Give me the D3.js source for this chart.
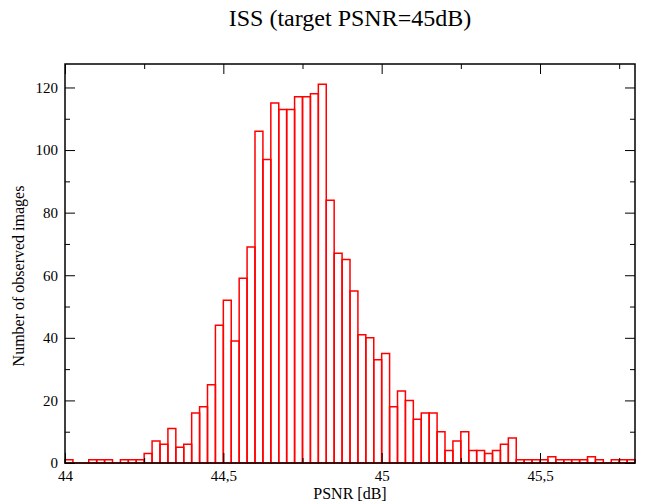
<!DOCTYPE html>
<html>
<head>
<meta charset="utf-8">
<script src="https://cdn.jsdelivr.net/npm/d3@7"></script>
<style>
  html, body { margin: 0; padding: 0; background: #fff; }
  svg { display: block; }
</style>
</head>
<body>
<svg id="chart" width="664" height="503"></svg>
<script>
// ---- data ----
const binStart = 44.0;
const binWidth = 0.025;
const counts = [1,0,0,1,1,1,0,1,1,1, 3,7,6,11,5,6,16,18,25,44,
                52,39,59,69,106,97,115,113,113,117, 117,118,121,84,67,65,55,41,40,33,
                35,18,23,20,14,16,16,10,4,7, 10,4,4,3,4,6,8,1,1,1,
                1,2,1,1,1,1,2,1,0,1, 1,1];
const xMajorTicks = [44, 44.5, 45, 45.5];
const xTickLabels = ["44", "44,5", "45", "45,5"];
const xMinorTicks = [44.25, 44.75, 45.25, 45.75];
const yMajorTicks = [0, 20, 40, 60, 80, 100, 120];
const yMinorTicks = [10, 30, 50, 70, 90, 110];
const title = "ISS (target PSNR=45dB)";
const xTitle = "PSNR [dB]";
const yTitle = "Number of observed images";

// ---- layout ----
const L = 65, R = 635, T = 64, B = 463;
const svg = d3.select("#chart");
const font = "'Liberation Serif', 'Times New Roman', serif";

const x = d3.scaleLinear().domain([44, 45.8]).range([L, R]);
const y = d3.scaleLinear().domain([0, 127.5]).range([B, T]);

// bars
const bins = counts.map((c, i) => ({x0: binStart + i * binWidth, x1: binStart + (i + 1) * binWidth, c}));
svg.append("g").selectAll("path").data(bins).join("path")
  .attr("d", d => `M${x(d.x0)},${y(0)}V${y(d.c)}H${x(d.x1)}V${y(0)}Z`)
  .attr("fill", "none")
  .attr("stroke", "#ff0000")
  .attr("stroke-width", 1.5);

function styleAxis(g) {
  g.select(".domain").remove();
  g.selectAll(".tick line").attr("stroke", "#000").attr("stroke-width", 1);
  g.selectAll(".tick text").attr("font-family", font).attr("font-size", 15).attr("fill", "#000");
}

// left
svg.append("g").attr("transform", `translate(${L},0)`)
  .call(d3.axisLeft(y).tickValues(yMajorTicks).tickSizeInner(-10).tickSizeOuter(0).tickPadding(7).tickFormat(d3.format("d")))
  .call(styleAxis);
svg.append("g").attr("transform", `translate(${L},0)`)
  .call(d3.axisLeft(y).tickValues(yMinorTicks).tickSizeInner(-5).tickSizeOuter(0).tickFormat(""))
  .call(styleAxis);
// right
svg.append("g").attr("transform", `translate(${R},0)`)
  .call(d3.axisRight(y).tickValues(yMajorTicks).tickSizeInner(-10).tickSizeOuter(0).tickFormat(""))
  .call(styleAxis);
svg.append("g").attr("transform", `translate(${R},0)`)
  .call(d3.axisRight(y).tickValues(yMinorTicks).tickSizeInner(-5).tickSizeOuter(0).tickFormat(""))
  .call(styleAxis);
// bottom
svg.append("g").attr("transform", `translate(0,${B})`)
  .call(d3.axisBottom(x).tickValues(xMajorTicks).tickSizeInner(-10).tickSizeOuter(0).tickPadding(7)
    .tickFormat((d, i) => xTickLabels[i]))
  .call(styleAxis);
svg.append("g").attr("transform", `translate(0,${B})`)
  .call(d3.axisBottom(x).tickValues(xMinorTicks).tickSizeInner(-5).tickSizeOuter(0).tickFormat(""))
  .call(styleAxis);
// top
svg.append("g").attr("transform", `translate(0,${T})`)
  .call(d3.axisTop(x).tickValues(xMajorTicks).tickSizeInner(-10).tickSizeOuter(0).tickFormat(""))
  .call(styleAxis);
svg.append("g").attr("transform", `translate(0,${T})`)
  .call(d3.axisTop(x).tickValues(xMinorTicks).tickSizeInner(-5).tickSizeOuter(0).tickFormat(""))
  .call(styleAxis);

// frame
svg.append("rect").attr("x", L).attr("y", T).attr("width", R - L).attr("height", B - T)
  .attr("fill", "none").attr("stroke", "#000").attr("stroke-width", 1.5);

// titles
svg.append("text").attr("x", 350).attr("y", 26).attr("text-anchor", "middle")
  .attr("font-family", font).attr("font-size", 24).attr("fill", "#000").text(title);
svg.append("text").attr("x", 350).attr("y", 499).attr("text-anchor", "middle")
  .attr("font-family", font).attr("font-size", 16).attr("fill", "#000").text(xTitle);
svg.append("text").attr("transform", "translate(24,276) rotate(-90)").attr("text-anchor", "middle")
  .attr("font-family", font).attr("font-size", 16).attr("fill", "#000").text(yTitle);
</script>
</body>
</html>
